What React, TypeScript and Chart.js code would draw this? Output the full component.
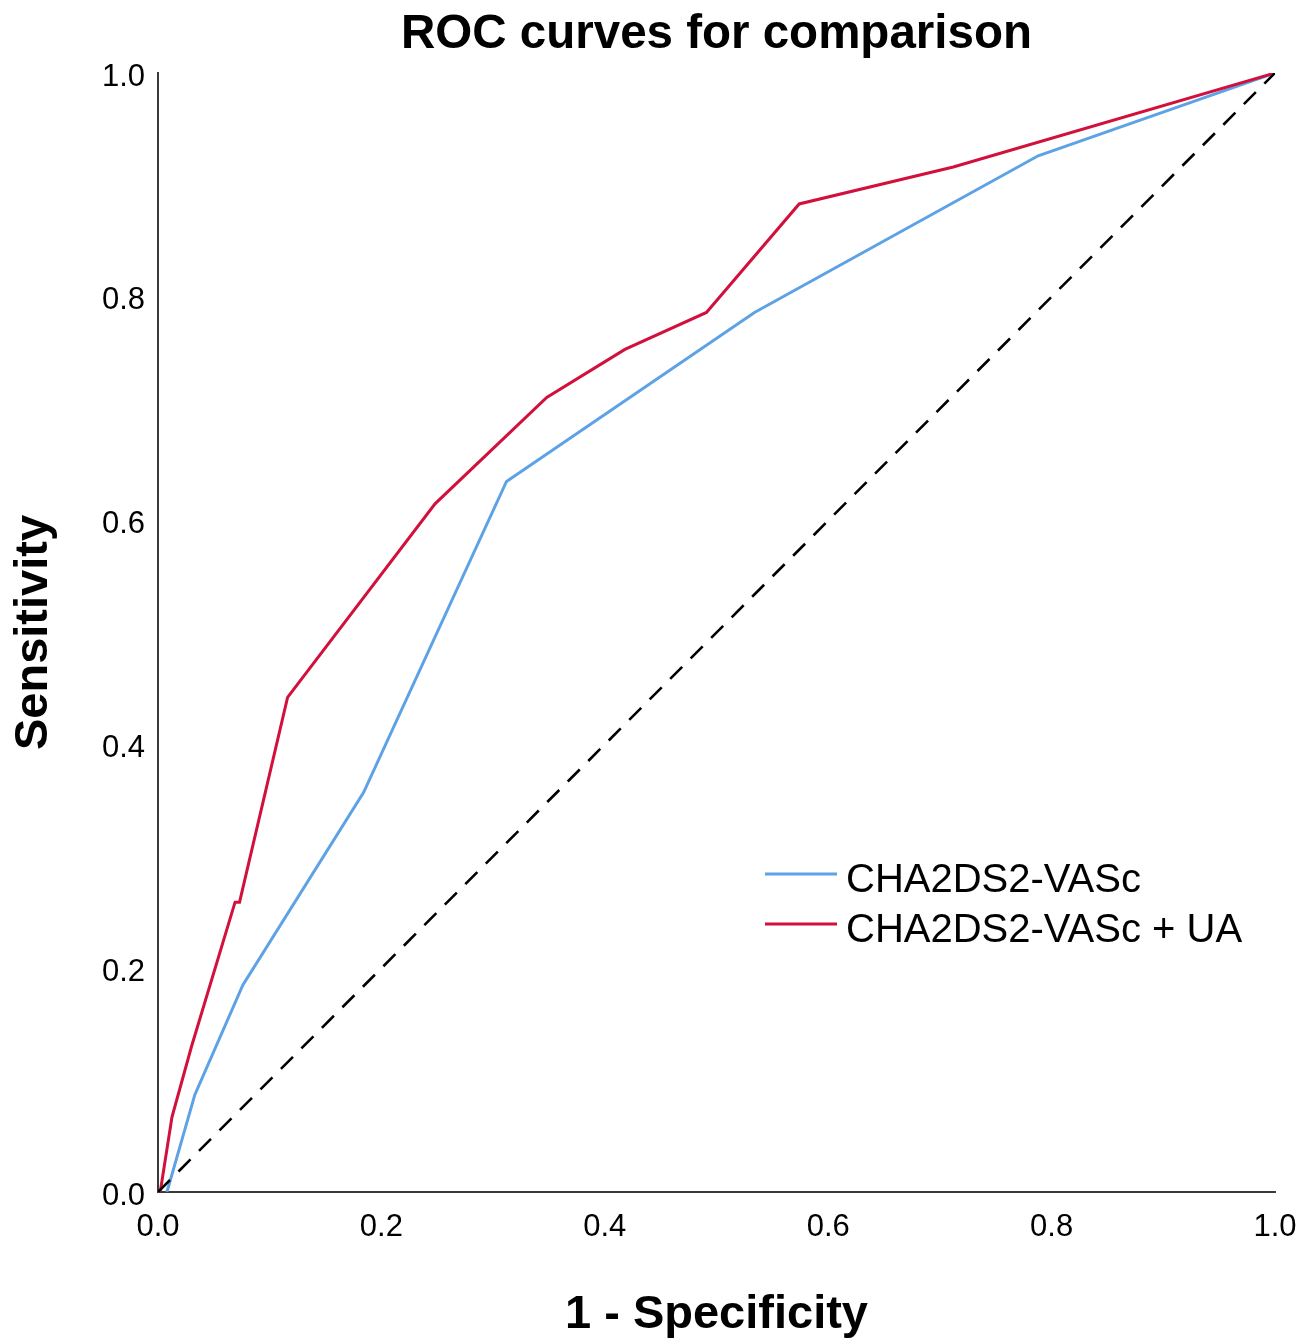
import React, { useEffect, useRef } from "react";
import { Chart, registerables } from "chart.js";

Chart.register(...registerables);

const titleText = "ROC curves for comparison";
const xTitle = "1 - Specificity";
const yTitle = "Sensitivity";
const tickValues = [0, 0.2, 0.4, 0.6, 0.8, 1.0];

const seriesNames = ["CHA2DS2-VASc", "CHA2DS2-VASc + UA"];

// CHA2DS2-VASc
const baseFpr = [0.008, 0.033, 0.076, 0.184, 0.312, 0.534, 0.788, 1.0];
const baseTpr = [0.0, 0.087, 0.185, 0.357, 0.635, 0.786, 0.926, 1.0];

// CHA2DS2-VASc + UA
const uaFpr = [0.002, 0.0125, 0.030, 0.069, 0.073, 0.116, 0.248, 0.348, 0.418, 0.491, 0.574, 0.712, 1.0];
const uaTpr = [0.0, 0.067, 0.130, 0.259, 0.259, 0.442, 0.615, 0.710, 0.753, 0.786, 0.883, 0.916, 1.0];

// reference line
const refFpr = [0, 1];
const refTpr = [0, 1];

const BLUE = "#5ea2e6";
const RED = "#d2103c";
const FONT = "'Liberation Sans', Arial, Helvetica, sans-serif";

const toPoints = (xs: number[], ys: number[]) => xs.map((x, i) => ({ x, y: ys[i] }));

const insideLegend = {
  id: "insideLegend",
  afterDraw(chart: any) {
    const { ctx, chartArea } = chart;
    const colors = [BLUE, RED];
    const lineX0 = chartArea.left + 607;
    const lineX1 = chartArea.left + 679;
    const textX = chartArea.left + 688;
    const rowY0 = chartArea.bottom - 318;
    const rowGap = 50;
    ctx.save();
    ctx.font = `40px ${FONT}`;
    ctx.textBaseline = "middle";
    ctx.textAlign = "left";
    seriesNames.forEach((name, i) => {
      const y = rowY0 + i * rowGap;
      ctx.strokeStyle = colors[i];
      ctx.lineWidth = 2.8;
      ctx.setLineDash([]);
      ctx.beginPath();
      ctx.moveTo(lineX0, y);
      ctx.lineTo(lineX1, y);
      ctx.stroke();
      ctx.fillStyle = "#000";
      ctx.fillText(name, textX, y + 7);
    });
    ctx.restore();
  },
};

export default function App() {
  const canvasRef = useRef<HTMLCanvasElement | null>(null);

  useEffect(() => {
    document.body.style.margin = "0";
    const canvas = canvasRef.current;
    if (!canvas) return;
    const chart = new Chart(canvas, {
      type: "line",
      data: {
        datasets: [
          {
            label: "Reference",
            data: toPoints(refFpr, refTpr),
            borderColor: "#000",
            borderWidth: 2.6,
            borderDash: [17, 12],
            pointRadius: 0,
            fill: false,
            order: 0,
          },
          {
            label: seriesNames[0],
            data: toPoints(baseFpr, baseTpr),
            borderColor: BLUE,
            borderWidth: 3,
            pointRadius: 0,
            fill: false,
            tension: 0,
            order: 2,
          },
          {
            label: seriesNames[1],
            data: toPoints(uaFpr, uaTpr),
            borderColor: RED,
            borderWidth: 3,
            pointRadius: 0,
            fill: false,
            tension: 0,
            order: 1,
          },
        ],
      },
      plugins: [insideLegend],
      options: {
        responsive: false,
        animation: false,
        layout: { padding: { left: 0, right: 36, top: 0, bottom: 0 } },
        plugins: {
          legend: { display: false },
          tooltip: { enabled: false },
          title: {
            display: true,
            text: titleText,
            fullSize: false,
            color: "#000",
            font: { family: FONT, size: 47.5, weight: "bold", lineHeight: 1.2 },
            padding: { top: 6, bottom: 10 },
          },
        },
        scales: {
          x: {
            type: "linear",
            min: 0,
            max: 1,
            afterFit: (scale: any) => {
              scale.height = 147;
              scale.paddingRight = 0;
            },
            afterBuildTicks: (scale: any) => {
              scale.ticks = tickValues.map((v) => ({ value: v }));
            },
            grid: { display: false, drawTicks: false },
            border: { display: true, color: "#3a3a3a", width: 2 },
            ticks: {
              color: "#000",
              font: { family: FONT, size: 31 },
              padding: 17,
              maxRotation: 0,
              callback: (v: any) => Number(v).toFixed(1),
            },
            title: {
              display: true,
              text: xTitle,
              color: "#000",
              font: { family: FONT, size: 47, weight: "bold", lineHeight: 1.0 },
              padding: { top: 0, bottom: 0 },
            },
          },
          y: {
            type: "linear",
            min: 0,
            max: 1,
            afterFit: (scale: any) => {
              scale.width = 158;
            },
            afterBuildTicks: (scale: any) => {
              scale.ticks = tickValues.map((v) => ({ value: v }));
            },
            grid: { display: false, drawTicks: false },
            border: { display: true, color: "#3a3a3a", width: 2 },
            ticks: {
              color: "#000",
              font: { family: FONT, size: 31 },
              padding: 13,
              labelOffset: 4,
              callback: (v: any) => Number(v).toFixed(1),
            },
            title: {
              display: true,
              text: yTitle,
              color: "#000",
              font: { family: FONT, size: 47, weight: "bold", lineHeight: 1.2 },
              padding: { top: 6, bottom: 0 },
            },
          },
        },
      },
    } as any);
    return () => chart.destroy();
  }, []);

  return (
    <div style={{ width: 1311, height: 1339 }}>
      <canvas ref={canvasRef} width={1311} height={1339} style={{ display: "block" }} />
    </div>
  );
}
